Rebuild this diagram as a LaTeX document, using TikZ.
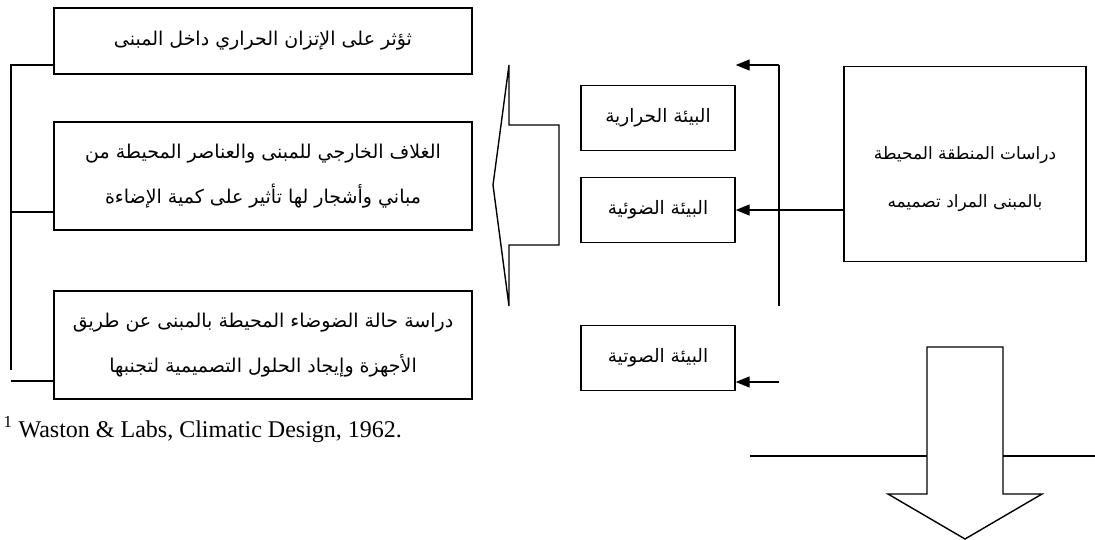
\documentclass[tikz,border=0pt]{standalone}
\usepackage{fontspec}
\setmainfont{Liberation Serif}
\newfontfamily\arabicfont[Script=Arabic]{DejaVu Sans}
\TeXXeTstate=1
\usetikzlibrary{arrows.meta}
\newcommand{\arligne}[1]{\beginR #1\endR}

\begin{document}
\begin{tikzpicture}[x=1pt, y=-1pt, line width=1.4pt]
\tikzset{boite/.style={draw, inner sep=0pt, align=center, font=\arabicfont\fontsize{19}{45}\selectfont},
  grande/.style={boite, minimum width=418pt, minimum height=108pt},
  petite/.style={boite, minimum width=154pt, minimum height=65pt, font=\arabicfont\fontsize{18.5}{45}\selectfont},
  fleche/.style={-{Triangle[length=14pt, width=11pt]}}}
\useasboundingbox (0,0) rectangle (1095,539);
\node[grande, minimum height=66pt] (B1) at (263,41) {\arligne{ثؤثر على الإتزان الحراري داخل المبنى}};
\node[grande] (B2) at (263,176) {\arligne{الغلاف الخارجي للمبنى والعناصر المحيطة من}\\\arligne{مباني وأشجار لها تأثير على كمية الإضاءة}};
\node[grande] (B3) at (263,345) {\arligne{دراسة حالة الضوضاء المحيطة بالمبنى عن طريق}\\\arligne{الأجهزة وإيجاد الحلول التصميمية لتجنبها}};
\node[petite] (M1) at (658,118) {\arligne{البيئة الحرارية}};
\node[petite] (M2) at (658,210) {\arligne{البيئة الضوئية}};
\node[petite] (M3) at (658,358) {\arligne{البيئة الصوتية}};
\node[draw, minimum width=242pt, minimum height=195pt] (R) at (965,164) {};
\node[inner sep=0pt, align=center, font=\arabicfont\fontsize{17}{48}\selectfont] (RT) at (965,179) {\arligne{دراسات المنطقة المحيطة}\\\arligne{بالمبنى المراد تصميمه}};
\node[anchor=base west, inner sep=0pt, font=\fontsize{24}{28}\selectfont] (Src) at (3,437) {\textsuperscript{1} Waston \& Labs, Climatic Design, 1962.};
\coordinate (H) at (779,65);
\coordinate (Bas) at (779,306);
\coordinate (S) at (779,382);
\coordinate (G1) at (11,65);
\coordinate (G2) at (11,370);
\coordinate (G3) at (11,381);
\draw (B1.west |- G1) -- (G1) -- (G2);
\draw (B2.west |- 0,212) -- (11,212);
\draw (B3.west |- G3) -- (G3);
\draw (H) -- (Bas);
\draw[fleche] (H) -- (M1.east |- H);
\draw[fleche] (R.west |- M2) -- (M2);
\draw[fleche] (S) -- (M3.east |- S);
\draw (509,65) -- (493,185) -- (509,306) -- (509,245) -- (559,245) -- (559,125) -- (509,125) -- cycle;
\draw (927,347) -- (1003,347) -- (1003,494) -- (1042,494) -- (965,539) -- (888,494) -- (927,494) -- cycle;
\draw (750,456) -- (927,456);
\draw (1003,456) -- (1095,456);
\end{tikzpicture}
\end{document}
